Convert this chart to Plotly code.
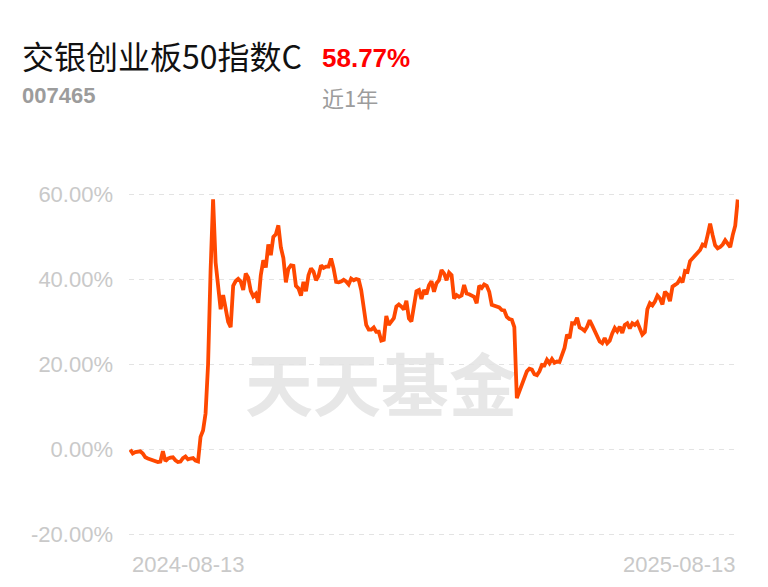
import pandas as pd
import plotly.graph_objects as go

# ---- data ----
fund_name = "交银创业板50指数C"
fund_code = "007465"
period_label = "近1年"
start_date = "2024-08-13"
end_date = "2025-08-13"
market_holidays = [
    "2024-09-16", "2024-09-17", "2024-10-01", "2024-10-02", "2024-10-03",
    "2024-10-04", "2024-10-07", "2025-01-01", "2025-01-28", "2025-01-29",
    "2025-01-30", "2025-01-31", "2025-02-03", "2025-02-04", "2025-04-04",
    "2025-05-01", "2025-05-02", "2025-05-05", "2025-06-02",
]
returns_pct = [
    0.0, -0.9, -0.6, -0.4, -0.4, -0.9, -1.8, -2.1, -2.3, -2.5,
    -2.6, -2.9, -2.8, -0.4, -2.7, -2.1, -1.9, -1.8, -2.5, -2.9,
    -2.8, -2.0, -1.6, -2.3, -2.1, -2.0, -2.6, -2.8, 3.0, 4.5,
    8.5, 20.0, 42.0, 58.8, 44.0, 38.5, 33.0, 36.3, 32.5, 30.0,
    28.8, 38.5, 39.6, 40.1, 39.5, 37.5, 41.4, 40.4, 37.3, 36.0,
    36.6, 34.5, 41.0, 44.5, 42.8, 48.2, 45.7, 50.0, 50.6, 52.7,
    47.5, 45.0, 39.3, 42.5, 43.3, 43.2, 38.5, 37.9, 36.2, 39.4,
    37.2, 41.0, 42.6, 41.8, 39.8, 40.8, 43.3, 42.7, 43.0, 43.0,
    44.9, 42.6, 39.4, 39.3, 39.5, 39.9, 39.5, 38.8, 40.2, 39.8,
    40.1, 39.9, 37.5, 33.5, 29.3, 28.2, 28.2, 28.7, 27.7, 27.7,
    25.6, 25.8, 31.4, 29.3, 30.0, 30.9, 33.6, 34.1, 33.6, 32.9,
    35.0, 30.8, 30.1, 33.5, 37.2, 37.5, 35.4, 37.5, 36.5, 38.6,
    39.6, 37.1, 39.1, 39.8, 42.2, 41.4, 39.8, 41.6, 41.0, 35.5,
    36.3, 35.9, 36.2, 38.7, 36.7, 36.5, 36.3, 35.9, 34.4, 38.5,
    38.0, 38.8, 38.5, 37.1, 34.0, 33.8, 33.4, 33.4, 32.8, 32.7,
    31.2, 30.7, 30.5, 28.8, 12.1, 13.7, 14.9, 16.9, 18.4, 19.0,
    18.8, 17.7, 17.5, 18.4, 19.9, 19.8, 21.1, 20.3, 21.3, 20.4,
    20.7, 20.6, 22.3, 23.9, 27.0, 26.2, 29.7, 29.6, 31.0, 28.7,
    28.4, 27.9, 28.9, 30.4, 29.2, 27.8, 26.7, 25.4, 25.0, 26.2,
    25.0, 25.6, 27.3, 28.6, 27.8, 28.9, 27.4, 29.3, 29.7, 28.5,
    29.7, 29.3, 29.9, 28.4, 27.0, 27.6, 33.0, 34.4, 33.9, 34.8,
    36.2, 35.5, 34.1, 37.1, 36.5, 34.9, 38.3, 38.7, 39.1, 40.1,
    39.3, 42.0, 41.8, 44.3, 44.9, 45.8, 46.4, 46.9, 48.2, 47.9,
    50.4, 53.1, 50.4, 48.0, 47.3, 47.6, 48.2, 49.2, 48.4, 47.6,
    50.4, 52.6, 58.77,
]
y_tick_vals = [-20, 0, 20, 40, 60]
y_tick_text = ["-20.00%", "0.00%", "20.00%", "40.00%", "60.00%"]
watermark = "天天基金"

trade_dates = [d.strftime("%Y-%m-%d") for d in
               pd.bdate_range(start_date, end_date, freq="C", holidays=market_holidays)]
n = min(len(trade_dates), len(returns_pct))
trade_dates = trade_dates[:n]
returns_pct = returns_pct[:n]

# ---- layout geometry (pixels) ----
W, H = 768, 587
L, R = 128.7, 739.3
T, B = 192.7, 536.3
PW, PH = R - L, B - T


def px(x):
    return (x - L) / PW


def py(y):
    return (B - y) / PH


CJK = "Noto Sans CJK SC"
LAT = "Liberation Sans, Arial, sans-serif"
GRAY = "#c9c9c9"

fig = go.Figure()
fig.add_trace(go.Scatter(
    x=trade_dates, y=returns_pct, mode="lines",
    line=dict(color="#ff4800", width=3.8, shape="linear"),
    hoverinfo="skip",
))

fig.update_layout(
    width=W, height=H,
    margin=dict(l=L, r=W - R, t=T, b=H - B, pad=0),
    paper_bgcolor="white", plot_bgcolor="white",
    showlegend=False, hovermode=False,
    xaxis=dict(type="category", range=[-0.5, n - 0.5], showgrid=False,
               showticklabels=False, showline=False, zeroline=False, ticks=""),
    yaxis=dict(range=[-20.3, 60.3], tickvals=y_tick_vals, ticktext=y_tick_text,
               showgrid=True, gridcolor="#e3e3e3", gridwidth=1, griddash="5px,5px",
               zeroline=False, showline=False, ticks="",
               ticklabelstandoff=15,
               tickfont=dict(family=LAT, size=22, color=GRAY)),
    shapes=[dict(
        type="rect", xref="paper", yref="paper",
        x0=px(230), x1=px(532), y0=py(430), y1=py(355),
        line=dict(width=0), fillcolor="rgba(0,0,0,0)", layer="below",
        label=dict(text=watermark, textposition="middle center",
                   font=dict(family=CJK, size=68, color="#e7e7e7", weight="bold")),
    )],
)

annos = [
    dict(text=fund_name, x=px(20), y=py(54), xanchor="left", yanchor="middle",
         font=dict(family=CJK, size=32, color="#111111")),
    dict(text=f"{returns_pct[-1]:.2f}%", x=px(320), y=py(57), xanchor="left", yanchor="middle",
         font=dict(family=LAT, size=26, color="#ff0000", weight="bold")),
    dict(text=fund_code, x=px(20), y=py(95), xanchor="left", yanchor="middle",
         font=dict(family=LAT, size=22, color="#9c9c9c", weight="bold")),
    dict(text=period_label, x=px(320), y=py(97), xanchor="left", yanchor="middle",
         font=dict(family=CJK, size=22, color="#9c9c9c")),
]
for a in annos:
    a.update(xref="paper", yref="paper", showarrow=False)
    fig.add_annotation(**a)

fig.add_annotation(text=trade_dates[0], x=trade_dates[0], xref="x", xanchor="left",
                   y=py(565), yref="paper", yanchor="middle", showarrow=False,
                   font=dict(family=LAT, size=22, color=GRAY))
fig.add_annotation(text=trade_dates[-1], x=trade_dates[-1], xref="x", xanchor="right",
                   y=py(565), yref="paper", yanchor="middle", showarrow=False,
                   font=dict(family=LAT, size=22, color=GRAY))

fig.write_html("out.html", config={"displayModeBar": False, "staticPlot": True},
               post_script="document.body.style.margin='0';document.body.style.overflow='hidden';")
